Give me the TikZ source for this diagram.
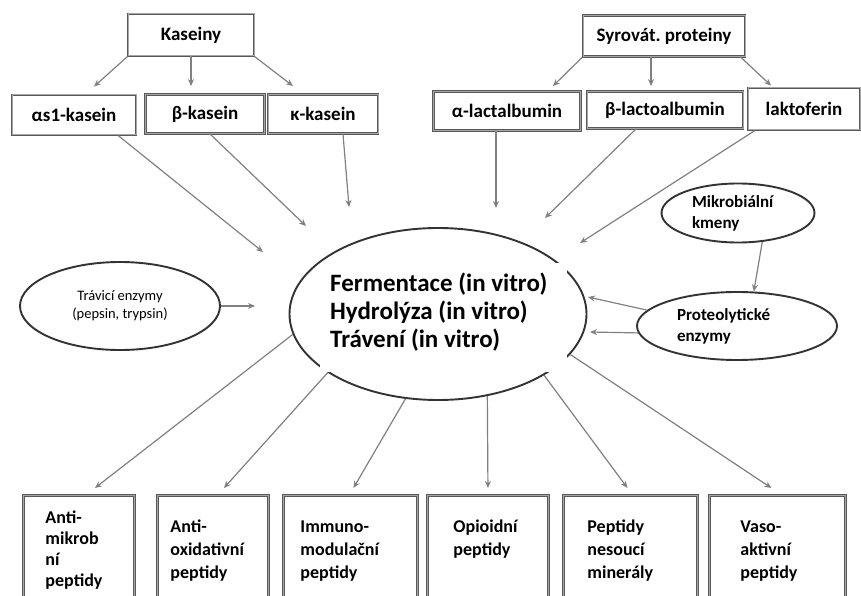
\documentclass[tikz,border=0pt]{standalone}
\usepackage{fontspec}
\setmainfont{Carlito}
\usetikzlibrary{arrows.meta,shapes.geometric}
\tikzset{>/.tip={Stealth[length=7pt,width=6pt]},
  box/.style={draw=black!65, double=black!35, double distance=1pt, line width=0.9pt,
    font={\bfseries\fontsize{19}{23}\selectfont}},
  pbox/.style={box, anchor=north west, align=flush left, text height=13pt, text depth=100pt,
    inner ysep=24pt, font={\bfseries\fontsize{18}{23}\selectfont}},
  oval/.style={ellipse, draw=black!80, line width=1.9pt, inner sep=0pt},
  arr/.style={->, draw=black!50, line width=1.2pt}}

\begin{document}
\begin{tikzpicture}[x=1pt,y=-1pt]
\clip (0,0) rectangle (861,596);
\node[box, minimum width=126, minimum height=42] (kas) at (191,35) {Kaseiny};
\node[box, minimum width=162, minimum height=41] (syr) at (664,36) {Syrovát.\ proteiny};
\node[box, minimum width=124, minimum height=40] (as1) at (74,115) {αs1-kasein};
\node[box, minimum width=119, minimum height=39] (bkas) at (205,114) {β-kasein};
\node[box, minimum width=110, minimum height=39] (kkas) at (323,114) {κ-kasein};
\node[box, minimum width=147, minimum height=39] (alac) at (507,111) {α-lactalbumin};
\node[box, minimum width=156, minimum height=37] (blac) at (665,110) {β-lactoalbumin};
\node[box, minimum width=112, minimum height=42] (lakt) at (804,109) {laktoferin};
% centre
\node[oval, minimum width=297, minimum height=172] (ferm) at (438,314) {};
\node[fill=white, anchor=north west, align=flush left, text width=227, inner xsep=10, inner ysep=10,
  text height=18, text depth=71, font={\bfseries\fontsize{25}{28}\selectfont}] (fermtxt) at (320,263)
  {Fermentace (in vitro)\\Hydrolýza (in vitro)\\Trávení (in vitro)};
\node[oval, minimum width=200, minimum height=88, align=center,
  font={\fontsize{14.5}{18}\selectfont}] (trav) at (120,306) {Trávicí enzymy\\ (pepsin, trypsin)};
\node[oval, minimum width=153, minimum height=59, align=flush left, text width=92,
  font={\bfseries\fontsize{17}{21}\selectfont}] (mikro) at (738,213) {Mikrobiální\\kmeny};
\node[oval, minimum width=200, minimum height=68, align=flush left, text width=120,
  font={\bfseries\fontsize{17}{21}\selectfont}] (prot) at (737,326) {Proteolytické\\enzymy};
% peptides
\node[pbox, text width=67, inner xsep=22, inner ysep=15,
  font={\bfseries\fontsize{18}{21}\selectfont}] (amik) at (23,495) {Anti-\\mikrob\\ní\\peptidy};
\node[pbox, text width=85, inner xsep=13] (aox) at (157,495) {Anti-\\oxidativní\\peptidy};
\node[pbox, text width=100, inner xsep=17] (imm) at (283,495) {Immuno-\\modulační\\peptidy};
\node[pbox, text width=69, inner xsep=26] (opi) at (427,495) {Opioidní\\peptidy};
\node[pbox, text width=86, inner xsep=24] (pmin) at (563,495) {Peptidy\\nesoucí\\minerály};
\node[pbox, text width=74, inner xsep=31] (vaso) at (709,495) {Vaso-\\aktivní\\peptidy};

\draw[arr] (kas.south west) -- ([xshift=20,yshift=8]as1.north);
\draw[arr] (kas.south) -- ([xshift=-14,yshift=8]bkas.north);
\draw[arr] (kas.south east) -- ([xshift=-30,yshift=8]kkas.north);
\draw[arr] (syr.south west) -- ([xshift=46,yshift=5]alac.north);
\draw[arr] ([xshift=-13]syr.south) -- ([xshift=-14,yshift=5]blac.north);
\draw[arr] ([xshift=-5]syr.south east) -- ([xshift=-33,yshift=2]lakt.north);

\foreach \n/\x/\y in {as1/263/252, bkas/306/226, kkas/349/207, alac/496/208,
  blac/545/218, lakt/580/243, trav/255/306}
  \coordinate (to-\n) at (\x,\y);
\foreach \n/\d in {as1/44, bkas/5, kkas/20, alac/-11, blac/-29, lakt/-49}
  \draw[arr] ([xshift=\d]\n.south) -- (to-\n);
\draw[arr] (trav.east) -- (to-trav);

\coordinate (to-ferm1) at (588,297);
\coordinate (to-ferm2) at (590,332);
\draw[arr] (prot.170) -- (to-ferm1);
\draw[arr] (prot.184) -- (to-ferm2);
\draw[arr] (mikro.310) -- (prot.64);

\foreach \a/\n/\d in {188/amik/16, 208/aox/11, 249/imm/3, 301/opi/0, 330/pmin/-3, 343/vaso/-6}
  \draw[arr] (ferm.\a) -- ([xshift=\d,yshift=7]\n.north);
\end{tikzpicture}
\end{document}
